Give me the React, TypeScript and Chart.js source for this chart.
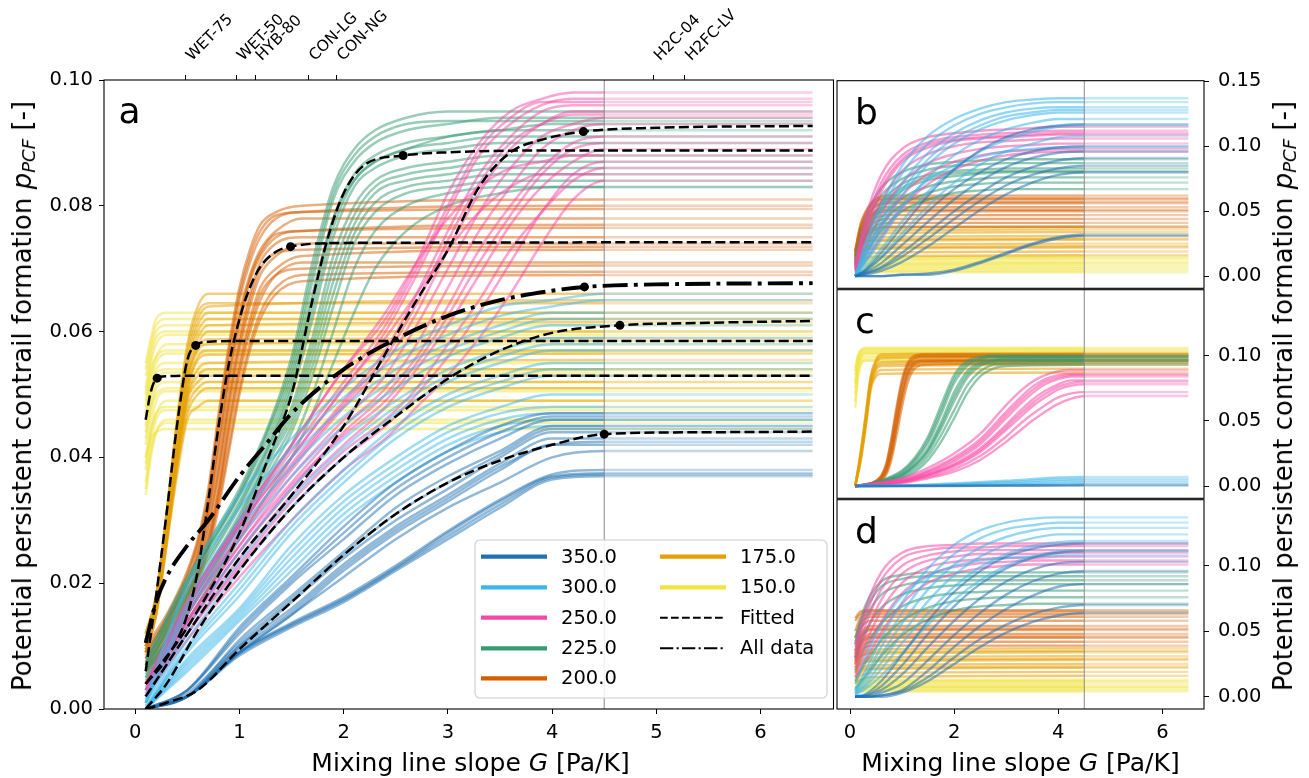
import React, { useEffect, useRef } from "react";
import { Chart, registerables } from "chart.js";

Chart.register(...registerables);

const FONT = "DejaVu Sans";

// ---------- categories / labels ----------
const TEMPS = ["350.0", "300.0", "250.0", "225.0", "200.0", "175.0", "150.0"];
const COLORS = ["#2271B2", "#3DB7E9", "#F748A5", "#359B73", "#D55E00", "#E69F00", "#F0E442"];
const AIRCRAFT = ["WET-75", "WET-50", "HYB-80", "CON-LG", "CON-NG", "H2C-04", "H2FC-LV"];
const AIRCRAFT_G = [0.48, 0.97, 1.15, 1.66, 1.93, 4.97, 5.27];

const A_X_TICKS = [0, 1, 2, 3, 4, 5, 6];
const A_Y_TICKS = [0, 0.02, 0.04, 0.06, 0.08, 0.1];
const R_X_TICKS = [0, 2, 4, 6];
const R_Y_TICKS_TOP = [0, 0.05, 0.1, 0.15];
const R_Y_TICKS = [0, 0.05, 0.1];

const G_CUT = 4.5;
const G_END = 6.5;

// ---------- panel a : individual curves ----------
const A_G_350 = [0.1, 0.5, 1.0, 1.5, 2.0, 2.5, 3.0, 3.5, 4.0, 4.5];
const A_P_350 = [
  [0, 0.003, 0.013, 0.021, 0.029, 0.036, 0.041, 0.045, 0.047, 0.047],
  [0, 0.003, 0.0125, 0.0205, 0.028, 0.035, 0.040, 0.044, 0.0465, 0.0465],
  [0, 0.003, 0.012, 0.020, 0.027, 0.034, 0.039, 0.043, 0.046, 0.046],
  [0, 0.002, 0.011, 0.018, 0.025, 0.032, 0.037, 0.041, 0.045, 0.045],
  [0, 0.0025, 0.0105, 0.0175, 0.0245, 0.031, 0.036, 0.0405, 0.0445, 0.0445],
  [0, 0.002, 0.010, 0.017, 0.024, 0.030, 0.035, 0.040, 0.044, 0.044],
  [0, 0.002, 0.010, 0.016, 0.023, 0.029, 0.034, 0.039, 0.043, 0.043],
  [0, 0.002, 0.0095, 0.0155, 0.0225, 0.0285, 0.0335, 0.0385, 0.042, 0.0425],
  [0, 0.002, 0.009, 0.015, 0.022, 0.028, 0.033, 0.038, 0.042, 0.042],
  [0, 0.002, 0.009, 0.015, 0.021, 0.027, 0.032, 0.036, 0.040, 0.041],
  [0, 0.002, 0.009, 0.0137, 0.0178, 0.0228, 0.0283, 0.0333, 0.0373, 0.038],
  [0, 0.002, 0.009, 0.0135, 0.0175, 0.0225, 0.028, 0.033, 0.037, 0.0375],
  [0, 0.002, 0.0088, 0.0133, 0.0173, 0.0223, 0.0275, 0.0325, 0.0368, 0.0373],
  [0, 0.002, 0.0085, 0.013, 0.017, 0.022, 0.027, 0.032, 0.0365, 0.037],
];
const A_G_300 = [0.1, 0.5, 1.0, 1.5, 2.0, 2.5, 3.0, 3.5, 4.0, 4.5];
const A_P_300 = [
  [0.002, 0.020, 0.034, 0.043, 0.051, 0.057, 0.061, 0.064, 0.065, 0.066],
  [0.0015, 0.019, 0.032, 0.0415, 0.0495, 0.0555, 0.0595, 0.0625, 0.064, 0.065],
  [0.001, 0.017, 0.030, 0.040, 0.048, 0.054, 0.058, 0.061, 0.063, 0.063],
  [0.001, 0.016, 0.0285, 0.0385, 0.0465, 0.0525, 0.057, 0.060, 0.062, 0.062],
  [0.001, 0.015, 0.027, 0.037, 0.045, 0.051, 0.056, 0.059, 0.061, 0.061],
  [0.001, 0.013, 0.025, 0.035, 0.043, 0.049, 0.054, 0.057, 0.059, 0.059],
  [0.0005, 0.012, 0.0235, 0.0335, 0.0415, 0.048, 0.053, 0.056, 0.058, 0.058],
  [0.000, 0.011, 0.022, 0.032, 0.040, 0.047, 0.052, 0.055, 0.057, 0.057],
  [0.000, 0.010, 0.020, 0.030, 0.038, 0.045, 0.050, 0.053, 0.055, 0.055],
  [0.000, 0.0095, 0.019, 0.029, 0.037, 0.044, 0.049, 0.052, 0.054, 0.054],
  [0.000, 0.009, 0.018, 0.028, 0.036, 0.043, 0.048, 0.051, 0.053, 0.053],
  [0.000, 0.008, 0.016, 0.026, 0.034, 0.040, 0.045, 0.048, 0.050, 0.050],
  [0.000, 0.0075, 0.0155, 0.025, 0.033, 0.039, 0.044, 0.047, 0.048, 0.048],
  [0.000, 0.007, 0.015, 0.024, 0.032, 0.038, 0.043, 0.046, 0.047, 0.047],
  [0.000, 0.0065, 0.0145, 0.023, 0.031, 0.037, 0.042, 0.045, 0.046, 0.046],
  [0.000, 0.006, 0.014, 0.022, 0.030, 0.036, 0.041, 0.044, 0.045, 0.045],
];
const A_G_250 = [0.1, 0.5, 1.0, 1.5, 2.0, 2.4, 2.7, 3.0, 3.3, 3.6, 3.9, 4.2, 4.5];
const A_P_250 = [
  [0.004, 0.017, 0.030, 0.042, 0.054, 0.062, 0.071, 0.082, 0.090, 0.095, 0.097, 0.098, 0.098],
  [0.004, 0.0165, 0.0295, 0.041, 0.052, 0.061, 0.070, 0.080, 0.089, 0.094, 0.0965, 0.0965, 0.0965],
  [0.004, 0.016, 0.029, 0.040, 0.051, 0.060, 0.069, 0.079, 0.088, 0.093, 0.096, 0.097, 0.097],
  [0.003, 0.015, 0.028, 0.039, 0.049, 0.057, 0.066, 0.076, 0.085, 0.091, 0.095, 0.096, 0.096],
  [0.003, 0.015, 0.027, 0.038, 0.048, 0.055, 0.063, 0.073, 0.082, 0.089, 0.093, 0.095, 0.095],
  [0.003, 0.015, 0.0275, 0.0385, 0.0485, 0.056, 0.0645, 0.0745, 0.0835, 0.090, 0.093, 0.0945, 0.0945],
  [0.003, 0.014, 0.026, 0.037, 0.046, 0.053, 0.061, 0.070, 0.079, 0.086, 0.091, 0.093, 0.094],
  [0.003, 0.014, 0.026, 0.036, 0.045, 0.051, 0.058, 0.067, 0.076, 0.083, 0.089, 0.092, 0.093],
  [0.002, 0.013, 0.025, 0.035, 0.044, 0.050, 0.056, 0.064, 0.073, 0.080, 0.086, 0.090, 0.091],
  [0.0025, 0.0135, 0.025, 0.0355, 0.0435, 0.049, 0.055, 0.0625, 0.071, 0.0785, 0.085, 0.089, 0.090],
  [0.002, 0.013, 0.024, 0.034, 0.042, 0.048, 0.054, 0.061, 0.069, 0.077, 0.083, 0.087, 0.089],
  [0.002, 0.012, 0.0225, 0.032, 0.040, 0.045, 0.050, 0.056, 0.063, 0.071, 0.079, 0.085, 0.087],
  [0.002, 0.012, 0.023, 0.033, 0.041, 0.046, 0.051, 0.058, 0.065, 0.073, 0.079, 0.084, 0.086],
  [0.002, 0.011, 0.021, 0.030, 0.038, 0.043, 0.048, 0.053, 0.059, 0.066, 0.074, 0.081, 0.084],
  [0.004, 0.017, 0.030, 0.042, 0.054, 0.063, 0.071, 0.078, 0.083, 0.086, 0.087, 0.088, 0.088],
  [0.0035, 0.016, 0.029, 0.040, 0.051, 0.059, 0.066, 0.073, 0.079, 0.083, 0.085, 0.085, 0.085],
];
const A_G_225 = [0.1, 0.5, 1.0, 1.3, 1.5, 1.7, 1.9, 2.1, 2.3, 2.6, 3.0, 3.5, 4.0, 4.5];
const A_P_225 = [
  [0.008, 0.021, 0.035, 0.046, 0.056, 0.071, 0.083, 0.089, 0.092, 0.094, 0.095, 0.095, 0.095, 0.095],
  [0.0075, 0.0205, 0.0345, 0.0455, 0.055, 0.0695, 0.082, 0.088, 0.091, 0.093, 0.0935, 0.0935, 0.0935, 0.0935],
  [0.007, 0.020, 0.034, 0.045, 0.054, 0.068, 0.081, 0.087, 0.090, 0.092, 0.093, 0.094, 0.094, 0.094],
  [0.006, 0.019, 0.033, 0.043, 0.052, 0.065, 0.078, 0.085, 0.088, 0.090, 0.091, 0.092, 0.092, 0.092],
  [0.0065, 0.0185, 0.0325, 0.0425, 0.051, 0.0635, 0.0765, 0.084, 0.087, 0.089, 0.090, 0.091, 0.091, 0.091],
  [0.006, 0.018, 0.032, 0.042, 0.050, 0.062, 0.075, 0.083, 0.086, 0.088, 0.089, 0.090, 0.090, 0.090],
  [0.005, 0.017, 0.031, 0.041, 0.048, 0.059, 0.072, 0.080, 0.084, 0.086, 0.087, 0.088, 0.088, 0.088],
  [0.0055, 0.0165, 0.0305, 0.0405, 0.047, 0.0575, 0.070, 0.0785, 0.083, 0.085, 0.086, 0.087, 0.087, 0.087],
  [0.005, 0.016, 0.030, 0.040, 0.046, 0.056, 0.068, 0.077, 0.082, 0.084, 0.085, 0.086, 0.086, 0.086],
  [0.0045, 0.0155, 0.0295, 0.039, 0.045, 0.0545, 0.066, 0.0755, 0.0805, 0.083, 0.084, 0.085, 0.085, 0.085],
  [0.004, 0.015, 0.029, 0.038, 0.044, 0.053, 0.064, 0.074, 0.079, 0.082, 0.083, 0.084, 0.084, 0.084],
  [0.004, 0.014, 0.028, 0.037, 0.042, 0.050, 0.060, 0.070, 0.076, 0.080, 0.082, 0.083, 0.083, 0.083],
  [0.004, 0.014, 0.027, 0.035, 0.040, 0.047, 0.055, 0.063, 0.070, 0.076, 0.080, 0.082, 0.083, 0.083],
  [0.007, 0.020, 0.034, 0.044, 0.053, 0.066, 0.078, 0.084, 0.087, 0.089, 0.091, 0.092, 0.093, 0.093],
];
const A_G_200 = [0.1, 0.3, 0.5, 0.6, 0.7, 0.8, 0.9, 1.0, 1.1, 1.2, 1.35, 1.6, 4.5];
const A_P_200 = [
  [0.010, 0.015, 0.022, 0.027, 0.035, 0.047, 0.058, 0.067, 0.073, 0.077, 0.079, 0.080, 0.081],
  [0.0095, 0.0145, 0.0215, 0.0265, 0.034, 0.046, 0.057, 0.066, 0.072, 0.076, 0.0785, 0.079, 0.0795],
  [0.009, 0.014, 0.021, 0.026, 0.033, 0.045, 0.056, 0.065, 0.071, 0.075, 0.078, 0.079, 0.080],
  [0.009, 0.014, 0.020, 0.025, 0.032, 0.043, 0.054, 0.063, 0.069, 0.073, 0.076, 0.078, 0.078],
  [0.008, 0.013, 0.020, 0.024, 0.031, 0.041, 0.052, 0.061, 0.068, 0.072, 0.075, 0.076, 0.077],
  [0.0085, 0.0135, 0.020, 0.0245, 0.0315, 0.042, 0.053, 0.062, 0.0685, 0.0725, 0.0755, 0.076, 0.0765],
  [0.008, 0.013, 0.019, 0.023, 0.030, 0.039, 0.050, 0.059, 0.066, 0.071, 0.074, 0.075, 0.075],
  [0.007, 0.012, 0.018, 0.022, 0.028, 0.037, 0.048, 0.057, 0.064, 0.069, 0.072, 0.074, 0.074],
  [0.0075, 0.0125, 0.0185, 0.0225, 0.029, 0.038, 0.049, 0.058, 0.065, 0.070, 0.0725, 0.073, 0.0735],
  [0.007, 0.012, 0.018, 0.022, 0.027, 0.035, 0.046, 0.055, 0.062, 0.067, 0.070, 0.072, 0.073],
  [0.006, 0.011, 0.017, 0.021, 0.026, 0.034, 0.044, 0.053, 0.060, 0.065, 0.069, 0.071, 0.071],
  [0.0065, 0.0115, 0.0175, 0.0215, 0.0265, 0.0345, 0.045, 0.054, 0.061, 0.066, 0.069, 0.070, 0.0705],
  [0.006, 0.011, 0.017, 0.021, 0.026, 0.033, 0.042, 0.051, 0.058, 0.063, 0.067, 0.069, 0.0695],
  [0.006, 0.010, 0.016, 0.020, 0.025, 0.032, 0.041, 0.050, 0.057, 0.062, 0.066, 0.068, 0.069],
];
const A_G_175 = [0.1, 0.2, 0.3, 0.4, 0.5, 0.6, 0.7, 4.5];
const A_P_175 = [
  [0.012, 0.018, 0.031, 0.046, 0.058, 0.064, 0.066, 0.066],
  [0.012, 0.018, 0.031, 0.0455, 0.057, 0.063, 0.0645, 0.0645],
  [0.012, 0.018, 0.031, 0.045, 0.056, 0.062, 0.064, 0.065],
  [0.011, 0.017, 0.030, 0.044, 0.055, 0.061, 0.063, 0.063],
  [0.011, 0.017, 0.0295, 0.0435, 0.0545, 0.060, 0.062, 0.062],
  [0.011, 0.017, 0.029, 0.043, 0.054, 0.059, 0.061, 0.0615],
  [0.011, 0.017, 0.029, 0.042, 0.053, 0.058, 0.060, 0.060],
  [0.0105, 0.0165, 0.0285, 0.0415, 0.0525, 0.0575, 0.0588, 0.059],
  [0.010, 0.016, 0.028, 0.041, 0.052, 0.057, 0.058, 0.0585],
  [0.010, 0.016, 0.028, 0.040, 0.051, 0.056, 0.057, 0.057],
  [0.010, 0.016, 0.0275, 0.040, 0.0505, 0.0555, 0.0563, 0.0565],
  [0.010, 0.016, 0.027, 0.040, 0.050, 0.054, 0.055, 0.0555],
  [0.0095, 0.0155, 0.027, 0.0395, 0.0495, 0.053, 0.054, 0.054],
  [0.009, 0.015, 0.027, 0.039, 0.049, 0.052, 0.053, 0.053],
  [0.009, 0.015, 0.0265, 0.0385, 0.048, 0.051, 0.052, 0.052],
  [0.009, 0.015, 0.026, 0.038, 0.047, 0.050, 0.051, 0.051],
  [0.009, 0.015, 0.026, 0.037, 0.046, 0.048, 0.049, 0.049],
];
const A_G_150 = [0.1, 0.15, 0.2, 0.3, 4.5];
const A_P_150 = [
  [0.055, 0.059, 0.062, 0.063, 0.063],
  [0.054, 0.058, 0.061, 0.062, 0.062],
  [0.053, 0.057, 0.060, 0.061, 0.061],
  [0.051, 0.056, 0.059, 0.060, 0.060],
  [0.050, 0.055, 0.058, 0.0595, 0.0595],
  [0.048, 0.053, 0.056, 0.058, 0.058],
  [0.049, 0.054, 0.056, 0.057, 0.057],
  [0.047, 0.052, 0.055, 0.0565, 0.0565],
  [0.045, 0.050, 0.054, 0.055, 0.055],
  [0.046, 0.051, 0.0535, 0.054, 0.054],
  [0.044, 0.049, 0.052, 0.0535, 0.0535],
  [0.042, 0.047, 0.051, 0.052, 0.052],
  [0.043, 0.048, 0.050, 0.051, 0.051],
  [0.040, 0.045, 0.049, 0.0505, 0.0505],
  [0.038, 0.044, 0.047, 0.049, 0.049],
  [0.039, 0.044, 0.047, 0.048, 0.048],
  [0.036, 0.042, 0.046, 0.0475, 0.0475],
  [0.034, 0.040, 0.044, 0.046, 0.046],
  [0.035, 0.041, 0.044, 0.0455, 0.0455],
  [0.040, 0.043, 0.044, 0.0445, 0.0445],
];

// ---------- panel a : fitted curves ----------
const FIT_G_350 = [0.1, 0.3, 0.6, 1.0, 1.5, 2.0, 2.5, 3.0, 3.5, 4.0, 4.5, 5.5, 6.5];
const FIT_P_350 = [0.0, 0.001, 0.003, 0.0095, 0.017, 0.0245, 0.031, 0.036, 0.0395, 0.042, 0.0437, 0.044, 0.0441];
const FIT_G_300 = [0.1, 0.3, 0.6, 1.0, 1.5, 2.0, 2.5, 3.0, 3.5, 4.0, 4.65, 5.5, 6.5];
const FIT_P_300 = [0.0, 0.004, 0.0125, 0.022, 0.032, 0.04, 0.0465, 0.0525, 0.057, 0.0598, 0.061, 0.0614, 0.0617];
const FIT_G_250 = [0.1, 0.5, 1.0, 1.5, 2.0, 2.4, 2.7, 3.0, 3.3, 3.6, 3.9, 4.3, 5.0, 6.5];
const FIT_P_250 = [0.002, 0.012, 0.024, 0.034, 0.045, 0.0565, 0.065, 0.073, 0.083, 0.0885, 0.0905, 0.0918, 0.0924, 0.0927];
const FIT_G_225 = [0.1, 0.5, 1.0, 1.3, 1.5, 1.7, 1.85, 2.0, 2.2, 2.57, 3.0, 4.0, 6.5];
const FIT_P_225 = [0.004, 0.013, 0.028, 0.041, 0.05, 0.065, 0.075, 0.082, 0.0865, 0.088, 0.0885, 0.0888, 0.0888];
const FIT_G_200 = [0.1, 0.3, 0.5, 0.6, 0.7, 0.8, 0.9, 1.0, 1.1, 1.2, 1.35, 1.49, 2.0, 6.5];
const FIT_P_200 = [0.004, 0.008, 0.015, 0.022, 0.033, 0.045, 0.055, 0.062, 0.067, 0.0703, 0.0727, 0.0735, 0.0741, 0.0742];
const FIT_G_175 = [0.1, 0.2, 0.3, 0.4, 0.5, 0.58, 0.7, 1.0, 6.5];
const FIT_P_175 = [0.006, 0.018, 0.031, 0.045, 0.0555, 0.0578, 0.0584, 0.0585, 0.0585];
const FIT_G_150 = [0.1, 0.15, 0.21, 0.3, 0.5, 6.5];
const FIT_P_150 = [0.046, 0.0505, 0.0526, 0.0529, 0.053, 0.053];
const FIT_DOT_G = [4.5, 4.65, 4.3, 2.57, 1.49, 0.58, 0.21];
const FIT_DOT_P = [0.0437, 0.061, 0.0918, 0.088, 0.0735, 0.0578, 0.0526];
const ALL_G = [0.1, 0.2, 0.3, 0.5, 0.7, 1.0, 1.25, 1.5, 2.0, 2.5, 3.0, 3.5, 4.0, 4.31, 5.0, 6.5];
const ALL_P = [0.0105, 0.017, 0.021, 0.026, 0.03, 0.037, 0.042, 0.047, 0.054, 0.0588, 0.0625, 0.065, 0.0665, 0.0671, 0.0675, 0.0677];
const ALL_DOT_G = [4.31];
const ALL_DOT_P = [0.0671];

// ---------- panel b ----------
const B_G = [0.1, 0.3, 0.6, 1.0, 1.5, 2.0, 2.5, 3.0, 3.5, 4.0, 4.5];
const B_P_350 = [
  [0, 0.004, 0.014, 0.030, 0.050, 0.067, 0.080, 0.090, 0.096, 0.099, 0.100],
  [0, 0.003, 0.010, 0.024, 0.042, 0.059, 0.073, 0.084, 0.091, 0.095, 0.096],
  [0, 0.002, 0.007, 0.018, 0.034, 0.050, 0.064, 0.076, 0.084, 0.089, 0.091],
  [0, 0.002, 0.006, 0.015, 0.029, 0.044, 0.058, 0.070, 0.078, 0.083, 0.085],
  [0, 0.001, 0.004, 0.011, 0.023, 0.037, 0.051, 0.063, 0.072, 0.078, 0.080],
  [0, 0.000, 0.000, 0.001, 0.001, 0.004, 0.010, 0.017, 0.024, 0.029, 0.031],
  [0, 0.000, 0.000, 0.001, 0.002, 0.005, 0.011, 0.018, 0.025, 0.030, 0.032],
  [0, 0.005, 0.018, 0.038, 0.062, 0.082, 0.097, 0.107, 0.113, 0.116, 0.117],
];
const B_P_300 = [
  [0, 0.025, 0.055, 0.085, 0.108, 0.121, 0.129, 0.134, 0.136, 0.137, 0.137],
  [0, 0.022, 0.050, 0.079, 0.102, 0.116, 0.125, 0.130, 0.133, 0.134, 0.134],
  [0, 0.018, 0.043, 0.071, 0.095, 0.110, 0.120, 0.126, 0.129, 0.130, 0.130],
  [0, 0.016, 0.040, 0.066, 0.090, 0.106, 0.116, 0.123, 0.126, 0.128, 0.128],
  [0, 0.014, 0.036, 0.062, 0.086, 0.102, 0.113, 0.120, 0.124, 0.126, 0.126],
  [0, 0.010, 0.028, 0.052, 0.076, 0.093, 0.105, 0.113, 0.118, 0.121, 0.121],
  [0, 0.007, 0.021, 0.042, 0.065, 0.083, 0.096, 0.105, 0.111, 0.115, 0.116],
  [0, 0.005, 0.015, 0.033, 0.054, 0.072, 0.086, 0.096, 0.102, 0.107, 0.108],
  [0, 0.012, 0.032, 0.055, 0.074, 0.085, 0.092, 0.096, 0.098, 0.099, 0.099],
];
const B_P_250 = [
  [0.010, 0.045, 0.078, 0.098, 0.107, 0.110, 0.112, 0.113, 0.114, 0.115, 0.115],
  [0.008, 0.040, 0.072, 0.093, 0.103, 0.107, 0.109, 0.110, 0.111, 0.112, 0.112],
  [0.007, 0.037, 0.068, 0.090, 0.101, 0.105, 0.107, 0.108, 0.109, 0.110, 0.110],
  [0.006, 0.034, 0.065, 0.088, 0.099, 0.104, 0.106, 0.107, 0.108, 0.109, 0.109],
  [0.005, 0.028, 0.057, 0.081, 0.094, 0.100, 0.103, 0.104, 0.105, 0.106, 0.106],
  [0.004, 0.022, 0.048, 0.072, 0.087, 0.094, 0.098, 0.100, 0.101, 0.102, 0.102],
  [0.003, 0.016, 0.038, 0.062, 0.079, 0.088, 0.093, 0.096, 0.097, 0.098, 0.098],
  [0.002, 0.012, 0.030, 0.053, 0.071, 0.082, 0.089, 0.093, 0.095, 0.096, 0.096],
];
const B_P_225 = [
  [0.015, 0.045, 0.068, 0.080, 0.086, 0.088, 0.089, 0.090, 0.090, 0.090, 0.090],
  [0.012, 0.040, 0.062, 0.075, 0.082, 0.085, 0.086, 0.087, 0.087, 0.087, 0.087],
  [0.010, 0.035, 0.057, 0.071, 0.078, 0.081, 0.082, 0.083, 0.083, 0.083, 0.083],
  [0.009, 0.032, 0.054, 0.068, 0.076, 0.079, 0.080, 0.081, 0.081, 0.081, 0.081],
  [0.008, 0.030, 0.051, 0.066, 0.074, 0.077, 0.079, 0.080, 0.080, 0.080, 0.080],
  [0.006, 0.025, 0.045, 0.060, 0.069, 0.073, 0.075, 0.076, 0.076, 0.076, 0.076],
  [0.005, 0.021, 0.040, 0.055, 0.064, 0.069, 0.071, 0.072, 0.072, 0.072, 0.072],
  [0.004, 0.018, 0.035, 0.050, 0.059, 0.064, 0.066, 0.067, 0.067, 0.067, 0.067],
];
const B_G_200 = [0.1, 0.2, 0.4, 0.7, 4.5];
const B_P_200 = [
  [0.020, 0.040, 0.056, 0.062, 0.062],
  [0.019, 0.038, 0.055, 0.060, 0.060],
  [0.018, 0.037, 0.053, 0.059, 0.059],
  [0.017, 0.035, 0.051, 0.057, 0.057],
  [0.016, 0.034, 0.050, 0.056, 0.056],
  [0.015, 0.032, 0.047, 0.053, 0.053],
  [0.014, 0.031, 0.046, 0.051, 0.051],
  [0.013, 0.030, 0.044, 0.050, 0.050],
  [0.012, 0.028, 0.042, 0.047, 0.047],
  [0.011, 0.026, 0.039, 0.044, 0.044],
  [0.010, 0.024, 0.036, 0.041, 0.041],
  [0.009, 0.022, 0.034, 0.038, 0.038],
];
const B_G_175 = [0.1, 0.2, 0.4, 4.5];
const B_P_175 = [
  [0.020, 0.030, 0.037, 0.038],
  [0.019, 0.028, 0.035, 0.036],
  [0.018, 0.027, 0.033, 0.034],
  [0.016, 0.024, 0.030, 0.031],
  [0.015, 0.023, 0.028, 0.029],
  [0.014, 0.022, 0.027, 0.028],
  [0.012, 0.019, 0.024, 0.025],
  [0.011, 0.018, 0.022, 0.023],
  [0.010, 0.017, 0.021, 0.022],
  [0.008, 0.014, 0.018, 0.019],
  [0.007, 0.012, 0.015, 0.016],
];
const B_G_150 = [0.1, 0.2, 4.5];
const B_P_150 = [
  [0.010, 0.014, 0.015],
  [0.009, 0.013, 0.014],
  [0.008, 0.012, 0.013],
  [0.007, 0.010, 0.011],
  [0.006, 0.009, 0.010],
  [0.006, 0.008, 0.009],
  [0.005, 0.007, 0.0075],
  [0.004, 0.005, 0.006],
  [0.003, 0.004, 0.0045],
  [0.002, 0.003, 0.003],
];

// ---------- panel c ----------
const C_G_350 = [0.1, 1.0, 2.0, 3.0, 4.0, 4.5];
const C_P_350 = [
  [0, 0, 0.0002, 0.0005, 0.0008, 0.001],
  [0, 0, 0, 0.0002, 0.0003, 0.0004],
];
const C_G_300 = [0.1, 1.0, 2.0, 3.0, 4.0, 4.5];
const C_P_300 = [
  [0, 0.0005, 0.002, 0.004, 0.0065, 0.007],
  [0, 0.0003, 0.0015, 0.003, 0.005, 0.0055],
  [0, 0.0002, 0.001, 0.002, 0.0035, 0.004],
  [0, 0.0001, 0.0005, 0.001, 0.002, 0.0025],
];
const C_G_250 = [0.1, 1.0, 1.5, 2.0, 2.5, 3.0, 3.25, 3.5, 3.75, 4.0, 4.25, 4.5];
const C_P_250 = [
  [0, 0.006, 0.014, 0.025, 0.040, 0.062, 0.072, 0.080, 0.085, 0.088, 0.089, 0.089],
  [0, 0.005, 0.012, 0.022, 0.036, 0.057, 0.067, 0.076, 0.082, 0.085, 0.086, 0.086],
  [0, 0.0045, 0.011, 0.0205, 0.034, 0.0545, 0.0645, 0.0735, 0.080, 0.0835, 0.085, 0.085],
  [0, 0.004, 0.010, 0.019, 0.032, 0.052, 0.062, 0.071, 0.078, 0.082, 0.084, 0.084],
  [0, 0.004, 0.009, 0.017, 0.029, 0.047, 0.057, 0.066, 0.073, 0.078, 0.081, 0.081],
  [0, 0.003, 0.0085, 0.016, 0.0275, 0.045, 0.0545, 0.0635, 0.0705, 0.076, 0.079, 0.080],
  [0, 0.003, 0.008, 0.015, 0.026, 0.043, 0.052, 0.061, 0.068, 0.074, 0.077, 0.078],
  [0, 0.003, 0.007, 0.013, 0.023, 0.038, 0.047, 0.055, 0.062, 0.068, 0.071, 0.072],
  [0, 0.002, 0.006, 0.011, 0.020, 0.034, 0.042, 0.050, 0.057, 0.063, 0.067, 0.069],
];
const C_G_225 = [0.1, 0.5, 1.0, 1.25, 1.5, 1.75, 2.0, 2.25, 2.5, 2.75, 3.0, 4.5];
const C_P_225 = [
  [0, 0.003, 0.012, 0.022, 0.038, 0.062, 0.085, 0.096, 0.099, 0.100, 0.100, 0.100],
  [0, 0.003, 0.011, 0.0205, 0.0355, 0.0585, 0.082, 0.094, 0.098, 0.0995, 0.0995, 0.0995],
  [0, 0.003, 0.010, 0.019, 0.033, 0.055, 0.079, 0.092, 0.097, 0.099, 0.099, 0.099],
  [0, 0.002, 0.009, 0.017, 0.029, 0.049, 0.072, 0.088, 0.095, 0.097, 0.098, 0.098],
  [0, 0.002, 0.0085, 0.016, 0.0275, 0.0465, 0.0685, 0.0855, 0.0935, 0.096, 0.097, 0.097],
  [0, 0.002, 0.008, 0.015, 0.026, 0.044, 0.065, 0.083, 0.092, 0.095, 0.096, 0.096],
  [0, 0.002, 0.007, 0.013, 0.023, 0.039, 0.058, 0.077, 0.088, 0.093, 0.094, 0.095],
  [0, 0.001, 0.006, 0.011, 0.020, 0.034, 0.052, 0.071, 0.084, 0.090, 0.092, 0.093],
];
const C_G_200 = [0.1, 0.4, 0.6, 0.7, 0.8, 0.9, 1.0, 1.1, 1.2, 1.4, 4.5];
const C_P_200 = [
  [0, 0.002, 0.008, 0.018, 0.038, 0.062, 0.082, 0.094, 0.099, 0.101, 0.101],
  [0, 0.002, 0.0075, 0.0165, 0.0355, 0.059, 0.0795, 0.092, 0.0975, 0.100, 0.100],
  [0, 0.002, 0.007, 0.015, 0.033, 0.056, 0.077, 0.090, 0.096, 0.099, 0.099],
  [0, 0.001, 0.006, 0.013, 0.029, 0.051, 0.072, 0.087, 0.094, 0.097, 0.097],
  [0, 0.001, 0.0055, 0.012, 0.027, 0.0485, 0.0695, 0.085, 0.0925, 0.096, 0.0965],
  [0, 0.001, 0.005, 0.011, 0.025, 0.046, 0.067, 0.083, 0.091, 0.095, 0.096],
  [0, 0.001, 0.004, 0.009, 0.021, 0.040, 0.061, 0.078, 0.088, 0.093, 0.094],
];
const C_G_175 = [0.1, 0.2, 0.3, 0.4, 0.5, 0.6, 4.5];
const C_P_175 = [
  [0, 0.025, 0.055, 0.085, 0.097, 0.101, 0.102],
  [0, 0.024, 0.0535, 0.0835, 0.0955, 0.0995, 0.1005],
  [0, 0.023, 0.052, 0.082, 0.094, 0.098, 0.099],
  [0, 0.022, 0.050, 0.080, 0.092, 0.095, 0.096],
  [0, 0.021, 0.049, 0.079, 0.0905, 0.0935, 0.0945],
  [0, 0.020, 0.048, 0.078, 0.089, 0.092, 0.093],
  [0, 0.019, 0.046, 0.076, 0.086, 0.089, 0.090],
  [0, 0.018, 0.044, 0.074, 0.084, 0.086, 0.087],
];
const C_G_150 = [0.1, 0.15, 0.2, 0.3, 4.5];
const C_P_150 = [
  [0.090, 0.100, 0.104, 0.106, 0.106],
  [0.088, 0.099, 0.103, 0.105, 0.105],
  [0.085, 0.097, 0.102, 0.104, 0.104],
  [0.080, 0.094, 0.100, 0.103, 0.103],
  [0.078, 0.093, 0.099, 0.102, 0.102],
  [0.075, 0.091, 0.098, 0.101, 0.101],
  [0.070, 0.088, 0.096, 0.099, 0.099],
  [0.065, 0.085, 0.094, 0.097, 0.097],
  [0.060, 0.082, 0.092, 0.096, 0.096],
];

// ---------- panel d ----------
const D_G = [0.1, 0.3, 0.6, 1.0, 1.5, 2.0, 2.5, 3.0, 3.5, 4.0, 4.5];
const D_P_350 = [
  [0, 0.002, 0.012, 0.032, 0.058, 0.080, 0.096, 0.107, 0.113, 0.116, 0.117],
  [0, 0.001, 0.008, 0.024, 0.048, 0.069, 0.086, 0.098, 0.106, 0.110, 0.111],
  [0, 0.001, 0.005, 0.017, 0.038, 0.058, 0.075, 0.088, 0.097, 0.102, 0.103],
  [0, 0.000, 0.003, 0.010, 0.028, 0.047, 0.064, 0.078, 0.088, 0.094, 0.096],
  [0, 0.000, 0.001, 0.005, 0.020, 0.038, 0.054, 0.067, 0.077, 0.084, 0.086],
  [0, 0.000, 0.001, 0.004, 0.015, 0.030, 0.044, 0.055, 0.063, 0.068, 0.070],
  [0, 0.000, 0.000, 0.003, 0.012, 0.025, 0.038, 0.049, 0.057, 0.062, 0.064],
];
const D_P_300 = [
  [0.005, 0.020, 0.045, 0.072, 0.098, 0.116, 0.127, 0.133, 0.136, 0.137, 0.137],
  [0.004, 0.016, 0.038, 0.064, 0.090, 0.109, 0.121, 0.128, 0.131, 0.133, 0.133],
  [0.003, 0.013, 0.032, 0.056, 0.082, 0.101, 0.114, 0.122, 0.127, 0.129, 0.129],
  [0.002, 0.010, 0.026, 0.048, 0.073, 0.093, 0.107, 0.116, 0.121, 0.124, 0.124],
  [0.002, 0.008, 0.021, 0.041, 0.064, 0.084, 0.099, 0.109, 0.115, 0.118, 0.119],
  [0.001, 0.006, 0.016, 0.033, 0.055, 0.074, 0.089, 0.100, 0.107, 0.111, 0.112],
  [0.010, 0.030, 0.055, 0.077, 0.092, 0.100, 0.104, 0.106, 0.107, 0.108, 0.108],
];
const D_P_250 = [
  [0.040, 0.068, 0.095, 0.110, 0.115, 0.116, 0.117, 0.117, 0.117, 0.117, 0.117],
  [0.035, 0.062, 0.089, 0.106, 0.112, 0.114, 0.114, 0.115, 0.115, 0.115, 0.115],
  [0.030, 0.055, 0.082, 0.100, 0.108, 0.111, 0.112, 0.112, 0.112, 0.112, 0.112],
  [0.026, 0.048, 0.074, 0.094, 0.104, 0.107, 0.109, 0.109, 0.109, 0.110, 0.110],
  [0.022, 0.041, 0.066, 0.087, 0.099, 0.103, 0.105, 0.106, 0.106, 0.107, 0.107],
  [0.018, 0.034, 0.057, 0.079, 0.093, 0.099, 0.102, 0.103, 0.104, 0.104, 0.104],
  [0.015, 0.028, 0.049, 0.071, 0.087, 0.094, 0.098, 0.100, 0.101, 0.101, 0.101],
];
const D_P_225 = [
  [0.045, 0.070, 0.088, 0.093, 0.095, 0.095, 0.095, 0.095, 0.095, 0.095, 0.095],
  [0.042, 0.066, 0.084, 0.090, 0.092, 0.092, 0.092, 0.092, 0.092, 0.092, 0.092],
  [0.038, 0.060, 0.078, 0.085, 0.088, 0.089, 0.089, 0.089, 0.089, 0.089, 0.089],
  [0.030, 0.050, 0.068, 0.078, 0.083, 0.085, 0.086, 0.086, 0.086, 0.086, 0.086],
  [0.020, 0.038, 0.056, 0.069, 0.076, 0.079, 0.080, 0.081, 0.081, 0.081, 0.081],
  [0.012, 0.026, 0.043, 0.058, 0.068, 0.073, 0.075, 0.076, 0.076, 0.076, 0.076],
  [0.006, 0.016, 0.031, 0.047, 0.059, 0.066, 0.069, 0.070, 0.071, 0.071, 0.071],
];
const D_G_200 = [0.1, 0.2, 0.4, 4.5];
const D_P_200 = [
  [0.060, 0.065, 0.066, 0.066],
  [0.058, 0.063, 0.065, 0.065],
  [0.050, 0.060, 0.063, 0.063],
  [0.045, 0.056, 0.061, 0.061],
  [0.040, 0.052, 0.058, 0.058],
  [0.035, 0.047, 0.054, 0.054],
  [0.033, 0.045, 0.052, 0.052],
  [0.032, 0.044, 0.051, 0.051],
  [0.030, 0.041, 0.048, 0.048],
  [0.029, 0.040, 0.046, 0.046],
  [0.028, 0.038, 0.045, 0.045],
  [0.027, 0.036, 0.042, 0.042],
  [0.025, 0.034, 0.039, 0.039],
];
const D_G_175 = [0.1, 0.2, 0.4, 4.5];
const D_P_175 = [
  [0.025, 0.033, 0.036, 0.037],
  [0.024, 0.031, 0.034, 0.035],
  [0.022, 0.030, 0.033, 0.034],
  [0.020, 0.027, 0.030, 0.031],
  [0.019, 0.025, 0.028, 0.029],
  [0.018, 0.024, 0.027, 0.028],
  [0.016, 0.021, 0.024, 0.025],
  [0.015, 0.020, 0.022, 0.023],
  [0.014, 0.018, 0.021, 0.022],
  [0.012, 0.016, 0.018, 0.019],
  [0.010, 0.013, 0.015, 0.016],
];
const D_G_150 = [0.1, 0.2, 4.5];
const D_P_150 = [
  [0.011, 0.013, 0.013],
  [0.010, 0.012, 0.012],
  [0.009, 0.011, 0.011],
  [0.008, 0.0095, 0.0095],
  [0.007, 0.008, 0.008],
  [0.0065, 0.0072, 0.0072],
  [0.006, 0.0065, 0.0065],
  [0.005, 0.005, 0.005],
  [0.004, 0.004, 0.004],
];

// ---------- tables built from the arrays (group order = TEMPS) ----------
const PANEL_A = [[A_G_350, A_P_350], [A_G_300, A_P_300], [A_G_250, A_P_250], [A_G_225, A_P_225], [A_G_200, A_P_200], [A_G_175, A_P_175], [A_G_150, A_P_150]];
const PANEL_B = [[B_G, B_P_350], [B_G, B_P_300], [B_G, B_P_250], [B_G, B_P_225], [B_G_200, B_P_200], [B_G_175, B_P_175], [B_G_150, B_P_150]];
const PANEL_C = [[C_G_350, C_P_350], [C_G_300, C_P_300], [C_G_250, C_P_250], [C_G_225, C_P_225], [C_G_200, C_P_200], [C_G_175, C_P_175], [C_G_150, C_P_150]];
const PANEL_D = [[D_G, D_P_350], [D_G, D_P_300], [D_G, D_P_250], [D_G, D_P_225], [D_G_200, D_P_200], [D_G_175, D_P_175], [D_G_150, D_P_150]];
const FITS = [[FIT_G_350, FIT_P_350], [FIT_G_300, FIT_P_300], [FIT_G_250, FIT_P_250], [FIT_G_225, FIT_P_225], [FIT_G_200, FIT_P_200], [FIT_G_175, FIT_P_175], [FIT_G_150, FIT_P_150]];

// ---------- helpers ----------
function rgba(hex: string, a: number) {
  const n = parseInt(hex.slice(1), 16);
  return `rgba(${(n >> 16) & 255},${(n >> 8) & 255},${n & 255},${a})`;
}

function groupSets(table: any[], lw: number, aSolid: number, aFade: number) {
  const out: any[] = [];
  table.forEach(([gs, rows]: [number[], number[][]], gi: number) => {
    const color = COLORS[gi];
    const faded = rgba(color, aFade);
    rows.forEach((row) => {
      const data = gs.map((g, i) => ({ x: g, y: row[i] }));
      data.push({ x: G_END, y: row[row.length - 1] });
      out.push({
        type: "line",
        data,
        borderColor: rgba(color, aSolid),
        borderWidth: lw,
        pointRadius: 0,
        fill: false,
        cubicInterpolationMode: "monotone",
        order: 2 + gi,
        segment: { borderColor: (c: any) => (c.p0.parsed.x >= G_CUT - 1e-9 ? faded : undefined) },
      });
    });
  });
  return out;
}

function vline(ymin: number, ymax: number) {
  return {
    type: "line",
    data: [{ x: G_CUT, y: ymin }, { x: G_CUT, y: ymax }],
    borderColor: "#8a8a8a",
    borderWidth: 1,
    pointRadius: 0,
    tension: 0,
    order: 1,
  };
}

const tickGrid = (len: number) => ({
  display: true,
  drawOnChartArea: false,
  drawTicks: true,
  tickLength: len,
  color: "#000",
  lineWidth: 1,
});

const framePlugin = {
  id: "frame",
  afterDraw(chart: any) {
    const { ctx, chartArea: a } = chart;
    ctx.save();
    ctx.strokeStyle = "#000";
    ctx.lineWidth = 1.1;
    ctx.strokeRect(a.left, a.top, a.right - a.left, a.bottom - a.top);
    ctx.restore();
  },
};

function letterPlugin(letter: string, dx: number, dy: number, size: number) {
  return {
    id: "letter",
    afterDraw(chart: any) {
      const { ctx, chartArea: a } = chart;
      ctx.save();
      ctx.font = `${size}px "${FONT}"`;
      ctx.fillStyle = "#000";
      ctx.textBaseline = "alphabetic";
      ctx.textAlign = "left";
      ctx.fillText(letter, a.left + dx, a.top + dy);
      ctx.restore();
    },
  };
}

const LEGEND_BOX = { x: 475, y: 540, w: 352, h: 158, r: 5 };
const LEGEND_ROW_Y = [556.7, 587.3, 617.7, 648.3, 678.3];
const LEGEND_COL = [{ lx: 481, tx: 561 }, { lx: 660, tx: 740 }];

const legendPlugin = {
  id: "customLegend",
  afterDraw(chart: any) {
    const ctx = chart.ctx;
    ctx.save();
    ctx.beginPath();
    ctx.roundRect(LEGEND_BOX.x, LEGEND_BOX.y, LEGEND_BOX.w, LEGEND_BOX.h, LEGEND_BOX.r);
    ctx.fillStyle = "rgba(255,255,255,0.85)";
    ctx.fill();
    ctx.strokeStyle = "#cccccc";
    ctx.lineWidth = 1.1;
    ctx.stroke();
    const entries: any[] = [];
    TEMPS.forEach((t, i) => entries.push({ label: t, color: COLORS[i], kind: "solid" }));
    entries.push({ label: "Fitted", color: "#000", kind: "dash" });
    entries.push({ label: "All data", color: "#000", kind: "dashdot" });
    ctx.font = `19.5px "${FONT}"`;
    ctx.textBaseline = "middle";
    entries.forEach((e, i) => {
      const col = i < 5 ? 0 : 1;
      const row = i < 5 ? i : i - 5;
      const y = LEGEND_ROW_Y[row];
      const { lx, tx } = LEGEND_COL[col];
      ctx.beginPath();
      ctx.strokeStyle = e.color;
      if (e.kind === "solid") {
        ctx.lineWidth = 4.2;
        ctx.setLineDash([]);
      } else if (e.kind === "dash") {
        ctx.lineWidth = 2.1;
        ctx.setLineDash([7.7, 3.3]);
      } else {
        ctx.lineWidth = 2.1;
        ctx.setLineDash([13.3, 3.3, 2.1, 3.3]);
      }
      ctx.moveTo(lx, y);
      ctx.lineTo(lx + 66, y);
      ctx.stroke();
      ctx.setLineDash([]);
      ctx.fillStyle = "#000";
      ctx.fillText(e.label, tx, y + 1);
    });
    ctx.restore();
  },
};

function buildMain(canvas: HTMLCanvasElement) {
  const datasets: any[] = [];
  FITS.forEach(([gs, ps]) => {
    datasets.push({
      type: "line",
      data: gs.map((g: number, i: number) => ({ x: g, y: ps[i] })),
      borderColor: "#000",
      borderWidth: 2.5,
      borderDash: [10, 4.3],
      pointRadius: 0,
      cubicInterpolationMode: "monotone",
      order: 0,
    });
  });
  datasets.push({
    type: "line",
    data: ALL_G.map((g, i) => ({ x: g, y: ALL_P[i] })),
    borderColor: "#000",
    borderWidth: 3.9,
    borderDash: [25, 6.2, 3.9, 6.2],
    pointRadius: 0,
    cubicInterpolationMode: "monotone",
    order: 0,
  });
  datasets.push({
    type: "line",
    data: FIT_DOT_G.concat(ALL_DOT_G).map((g, i) => ({ x: g, y: FIT_DOT_P.concat(ALL_DOT_P)[i] })),
    showLine: false,
    pointRadius: 4.5,
    pointBackgroundColor: "#000",
    pointBorderWidth: 0,
    order: 0,
  });
  datasets.push(vline(0, 0.1));
  datasets.push(...groupSets(PANEL_A, 2.5, 0.5, 0.28));

  return new Chart(canvas, {
    type: "line",
    data: { datasets },
    options: {
      responsive: false,
      animation: false,
      devicePixelRatio: 1,
      events: [],
      layout: { padding: { left: 0, right: 1, top: 0, bottom: 0 } },
      plugins: { legend: { display: false }, tooltip: { enabled: false } },
      scales: {
        x: {
          type: "linear",
          position: "bottom",
          min: -0.3,
          max: 6.7,
          grid: tickGrid(5),
          border: { display: false },
          ticks: { font: { size: 19.5 }, color: "#000", padding: 7, autoSkip: false, maxRotation: 0, minRotation: 0, callback: (v: any) => String(v) },
          afterBuildTicks: (s: any) => { s.ticks = A_X_TICKS.map((v) => ({ value: v })); },
          afterFit: (s: any) => { s.height = 69; },
        },
        xTop: {
          type: "linear",
          position: "top",
          min: -0.3,
          max: 6.7,
          grid: tickGrid(5),
          border: { display: false },
          ticks: { font: { size: 15.5 }, color: "#000", padding: 10, labelOffset: 17, autoSkip: false, minRotation: 45, maxRotation: 45, callback: (_v: any, i: number) => AIRCRAFT[i] },
          afterBuildTicks: (s: any) => { s.ticks = AIRCRAFT_G.map((v) => ({ value: v })); },
          afterFit: (s: any) => { s.height = 80; },
        },
        y: {
          type: "linear",
          position: "left",
          min: 0,
          max: 0.1,
          grid: tickGrid(5),
          border: { display: false },
          ticks: { font: { size: 19.5 }, color: "#000", padding: 6, autoSkip: false, callback: (v: any) => Number(v).toFixed(2) },
          afterBuildTicks: (s: any) => { s.ticks = A_Y_TICKS.map((v) => ({ value: v })); },
          afterFit: (s: any) => { s.width = 104; },
        },
      },
    } as any,
    plugins: [framePlugin, letterPlugin("a", 14.5, 43, 36), legendPlugin],
  } as any);
}

const R_YMIN = -0.0094;
const R_YMAX = 0.1505;

function buildRight(canvas: HTMLCanvasElement, table: any[], yTicks: number[], showX: boolean, letter: string, padBottom: number) {
  const datasets: any[] = [vline(R_YMIN, R_YMAX), ...groupSets(table, 2.4, 0.55, 0.32)];
  return new Chart(canvas, {
    type: "line",
    data: { datasets },
    options: {
      responsive: false,
      animation: false,
      devicePixelRatio: 1,
      events: [],
      layout: { padding: { left: 7, right: 0, top: 20, bottom: padBottom } },
      plugins: { legend: { display: false }, tooltip: { enabled: false } },
      scales: {
        x: {
          type: "linear",
          display: showX,
          position: "bottom",
          min: -0.25,
          max: 6.8,
          grid: tickGrid(5),
          border: { display: false },
          ticks: { font: { size: 19.5 }, color: "#000", padding: 7, autoSkip: false, maxRotation: 0, minRotation: 0, callback: (v: any) => String(v) },
          afterBuildTicks: (s: any) => { s.ticks = R_X_TICKS.map((v) => ({ value: v })); },
          afterFit: (s: any) => { s.height = showX ? 69 : 0; },
        },
        y: {
          type: "linear",
          position: "right",
          min: R_YMIN,
          max: R_YMAX,
          grid: tickGrid(5),
          border: { display: false },
          ticks: { font: { size: 19.5 }, color: "#000", padding: 9, autoSkip: false, callback: (v: any) => Number(v).toFixed(2) },
          afterBuildTicks: (s: any) => { s.ticks = yTicks.map((v) => ({ value: v })); },
          afterFit: (s: any) => { s.width = 105; },
        },
      },
    } as any,
    plugins: [framePlugin, letterPlugin(letter, 18, 43, 36)],
  } as any);
}

const titleBase: any = {
  position: "absolute",
  fontFamily: FONT,
  fontSize: 25,
  color: "#000",
  whiteSpace: "nowrap",
  lineHeight: "normal",
};

const yTitleStyle: any = { ...titleBase, fontSize: 26 };

const subStyle: any = { fontSize: "0.7em", fontStyle: "italic", position: "relative", top: "0.22em" };

function YTitle() {
  return (
    <>
      Potential persistent contrail formation <i>p</i>
      <span style={subStyle}>PCF</span> [-]
    </>
  );
}

export default function App() {
  const mainRef = useRef<HTMLCanvasElement>(null);
  const bRef = useRef<HTMLCanvasElement>(null);
  const cRef = useRef<HTMLCanvasElement>(null);
  const dRef = useRef<HTMLCanvasElement>(null);

  useEffect(() => {
    Chart.defaults.font.family = FONT;
    Chart.defaults.color = "#000";
    const charts = [
      buildMain(mainRef.current!),
      buildRight(bRef.current!, PANEL_B, R_Y_TICKS_TOP, false, "b", 20),
      buildRight(cRef.current!, PANEL_C, R_Y_TICKS, false, "c", 20),
      buildRight(dRef.current!, PANEL_D, R_Y_TICKS, true, "d", 0),
    ];
    return () => charts.forEach((c) => c.destroy());
  }, []);

  const abs = (left: number, top: number): any => ({ position: "absolute", left, top });

  return (
    <div style={{ position: "fixed", left: 0, top: 0, width: 1309, height: 778, background: "#fff", overflow: "hidden" }}>
      <canvas ref={mainRef} width={838} height={778} style={abs(0, 0)} />
      <canvas ref={bRef} width={479} height={249} style={abs(830, 60)} />
      <canvas ref={cRef} width={479} height={250} style={abs(830, 269)} />
      <canvas ref={dRef} width={479} height={299} style={abs(830, 479)} />
      <div style={{ ...yTitleStyle, left: 21.5, top: 395.5, transform: "translate(-50%,-50%) rotate(-90deg)" }}>
        <YTitle />
      </div>
      <div style={{ ...yTitleStyle, left: 1283, top: 395.5, transform: "translate(-50%,-50%) rotate(-90deg)" }}>
        <YTitle />
      </div>
      <div style={{ ...titleBase, left: 470.5, top: 762.4, transform: "translate(-50%,-50%)" }}>
        Mixing line slope <i>G</i> [Pa/K]
      </div>
      <div style={{ ...titleBase, left: 1020.5, top: 762.4, transform: "translate(-50%,-50%)" }}>
        Mixing line slope <i>G</i> [Pa/K]
      </div>
    </div>
  );
}
